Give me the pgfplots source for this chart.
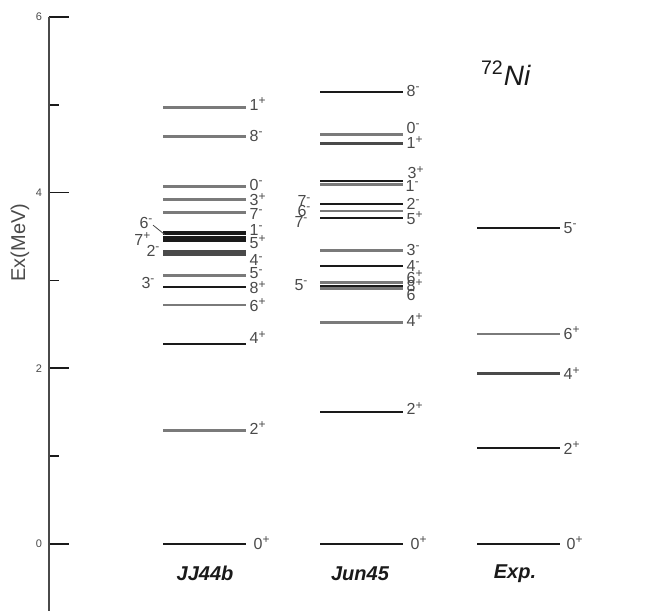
\documentclass[border=0pt]{standalone}
\usepackage{fontspec}
\setmainfont{Liberation Sans}
\usepackage{pgfplots}
\pgfplotsset{compat=1.18}
\definecolor{lgray}{HTML}{7A7A7A}
\definecolor{dgray}{HTML}{4A4A4A}
\definecolor{lblack}{HTML}{1A1A1A}
\newcommand\lf{\fontsize{8}{9}\selectfont}
\newcommand\up[1]{\textsuperscript{#1}}
\tikzset{lv/.style={anchor=west, inner sep=0.6pt, font=\lf, text=dgray},
         lvl/.style={anchor=east, inner sep=0.6pt, font=\lf, text=dgray}}
\begin{document}
\begin{tikzpicture}
\begin{axis}[width=299pt,height=296.9pt,scale only axis,
 xmin=0,xmax=598,ymin=-0.763,ymax=6,clip=false,
 axis x line=none, axis y line=left,
 y axis line style={-, line width=1.1pt, color=dgray},
 ytick={0,2,4,6}, minor ytick={1,3,5},
 tick align=inside, major tick length=10pt, minor tick length=5pt,
 tick style={lblack, line width=0.8pt},
 yticklabel style={font=\fontsize{5.5}{6}\selectfont, color=dgray},
 /pgf/number format/assume math mode=true,
 unbounded coords=jump]
% ---- JJ44b ----
\addplot[lgray, line width=1.4pt] coordinates {
 (114,4.97)(197,4.97) (0,nan)
 (114,4.64)(197,4.64) (0,nan)
 (114,4.07)(197,4.07) (0,nan)
 (114,3.92)(197,3.92) (0,nan)
 (114,3.77)(197,3.77) (0,nan)
 (114,3.06)(197,3.06) (0,nan)
 (114,2.72)(197,2.72) (0,nan)
 (114,1.29)(197,1.29)};
\addplot[dgray, line width=1.4pt] coordinates {
 (114,3.33)(197,3.33) (0,nan)
 (114,3.30)(197,3.30)};
\addplot[lblack, line width=1.0pt] coordinates {
 (114,3.55)(197,3.55) (0,nan)
 (114,3.525)(197,3.525) (0,nan)
 (114,3.50)(197,3.50) (0,nan)
 (114,3.475)(197,3.475) (0,nan)
 (114,3.45)(197,3.45) (0,nan)
 (114,2.93)(197,2.93) (0,nan)
 (114,2.28)(197,2.28) (0,nan)
 (114,0)(197,0)};
\addplot[dgray, line width=0.4pt] coordinates {(104,3.63)(116,3.52)};
% ---- Jun45 ----
\addplot[lgray, line width=1.4pt] coordinates {
 (271,4.66)(354,4.66) (0,nan)
 (271,4.09)(354,4.09) (0,nan)
 (271,3.79)(354,3.79) (0,nan)
 (271,3.34)(354,3.34) (0,nan)
 (271,2.98)(354,2.98) (0,nan)
 (271,2.91)(354,2.91) (0,nan)
 (271,2.52)(354,2.52)};
\addplot[dgray, line width=1.2pt] coordinates {
 (271,4.56)(354,4.56)};
\addplot[lblack, line width=1.0pt] coordinates {
 (271,5.15)(354,5.15) (0,nan)
 (271,4.13)(354,4.13) (0,nan)
 (271,3.87)(354,3.87) (0,nan)
 (271,3.71)(354,3.71) (0,nan)
 (271,3.17)(354,3.17) (0,nan)
 (271,2.94)(354,2.94) (0,nan)
 (271,1.50)(354,1.50) (0,nan)
 (271,0)(354,0)};
% ---- Exp ----
\addplot[lgray, line width=1.4pt] coordinates {(428,2.39)(511,2.39)};
\addplot[dgray, line width=1.2pt] coordinates {(428,1.94)(511,1.94)};
\addplot[lblack, line width=1.0pt] coordinates {
 (428,3.60)(511,3.60) (0,nan)
 (428,1.09)(511,1.09) (0,nan)
 (428,0)(511,0)};
% ---- labels JJ44b ----
\node[lv] at (axis cs:199,5.01) {1\up{+}};
\node[lv] at (axis cs:199,4.65) {8\up{-}};
\node[lv] at (axis cs:199,4.09) {0\up{-}};
\node[lv] at (axis cs:199,3.92) {3\up{+}};
\node[lv] at (axis cs:199,3.76) {7\up{-}};
\node[lv] at (axis cs:199,3.58) {1\up{-}};
\node[lv] at (axis cs:199,3.44) {5\up{+}};
\node[lv] at (axis cs:199,3.23) {4\up{-}};
\node[lv] at (axis cs:199,3.08) {5\up{-}};
\node[lv] at (axis cs:199,2.92) {8\up{+}};
\node[lv] at (axis cs:199,2.72) {6\up{+}};
\node[lv] at (axis cs:199,2.35) {4\up{+}};
\node[lv] at (axis cs:199,1.32) {2\up{+}};
\node[lv] at (axis cs:203,0.01) {0\up{+}};
\node[lvl] at (axis cs:106,3.66) {6\up{-}};
\node[lvl] at (axis cs:104,3.47) {7\up{+}};
\node[lvl] at (axis cs:113,3.34) {2\up{-}};
\node[lvl] at (axis cs:108,2.97) {3\up{-}};
% ---- labels Jun45 ----
\node[lv] at (axis cs:356,5.16) {8\up{-}};
\node[lv] at (axis cs:356,4.74) {0\up{-}};
\node[lv] at (axis cs:356,4.57) {1\up{+}};
\node[lv] at (axis cs:357,4.23) {3\up{+}};
\node[lv] at (axis cs:355,4.08) {1\up{-}};
\node[lv] at (axis cs:356,3.87) {2\up{-}};
\node[lv] at (axis cs:356,3.71) {5\up{+}};
\node[lv] at (axis cs:356,3.35) {3\up{-}};
\node[lv] at (axis cs:356,3.17) {4\up{-}};
\node[lv] at (axis cs:356,3.04) {6\up{+}};
\node[lv] at (axis cs:356,2.94) {8\up{+}};
\node[lv] at (axis cs:356,2.84) {6};
\node[lv] at (axis cs:356,2.55) {4\up{+}};
\node[lv] at (axis cs:356,1.54) {2\up{+}};
\node[lv] at (axis cs:360,0.01) {0\up{+}};
\node[lvl] at (axis cs:264,3.90) {7\up{-}};
\node[lvl] at (axis cs:264,3.79) {6\up{-}};
\node[lvl] at (axis cs:261,3.67) {7\up{-}};
\node[lvl] at (axis cs:261,2.95) {5\up{-}};
% ---- labels Exp ----
\node[lv] at (axis cs:513,3.60) {5\up{-}};
\node[lv] at (axis cs:513,2.40) {6\up{+}};
\node[lv] at (axis cs:513,1.94) {4\up{+}};
\node[lv] at (axis cs:513,1.09) {2\up{+}};
\node[lv] at (axis cs:516,0.01) {0\up{+}};
% ---- titles ----
\node[font=\fontsize{10}{12}\selectfont\bfseries\itshape, text=lblack] at (axis cs:156,-0.34) {JJ44b};
\node[font=\fontsize{10}{12}\selectfont\bfseries\itshape, text=lblack] at (axis cs:311,-0.34) {Jun45};
\node[font=\fontsize{10}{12}\selectfont\bfseries\itshape, text=lblack] at (axis cs:466,-0.34) {Exp.};
\node[font=\fontsize{14}{16}\selectfont, text=lblack] at (axis cs:457,5.36) {\textsuperscript{72}\textit{Ni}};
\node[rotate=90, font=\fontsize{10}{12}\selectfont, text=dgray] at (axis cs:-29,3.43) {Ex(MeV)};
\path (axis cs:-49,-0.763) rectangle (axis cs:598,6.194);
\end{axis}
\end{tikzpicture}
\end{document}
